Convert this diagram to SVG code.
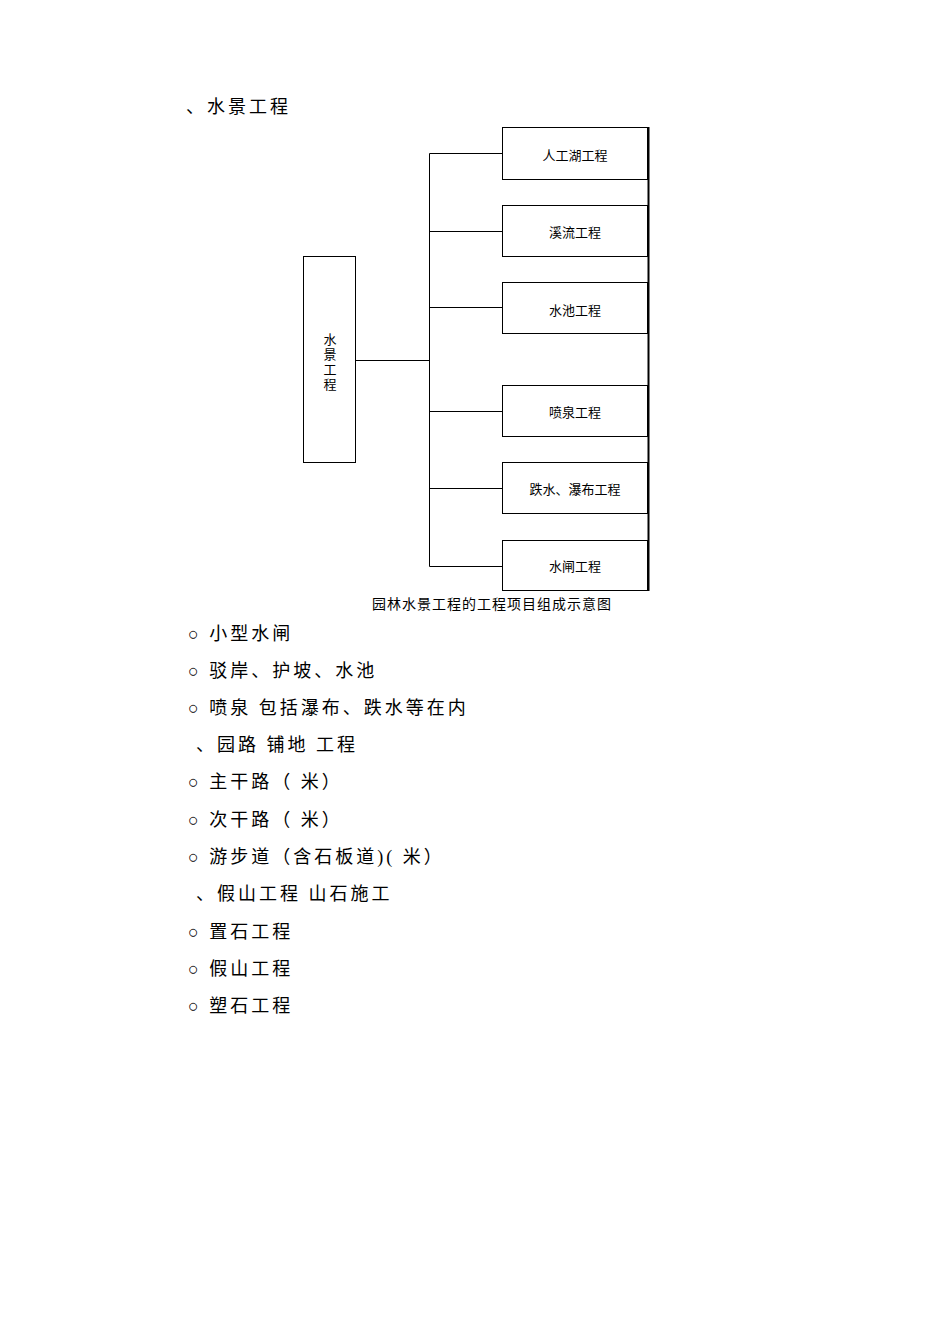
<svg xmlns="http://www.w3.org/2000/svg" width="950" height="1344" viewBox="0 0 950 1344">
<style>
.t{font-family:"Liberation Serif","Noto Sans CJK SC",serif;font-size:18px;fill:#000;letter-spacing:3px}
.s{font-family:"Liberation Serif","Noto Sans CJK SC",serif;font-size:13px;fill:#000;text-anchor:middle}
.b{fill:#fff;stroke:#000;stroke-width:1}
.c{fill:none;stroke:#000;stroke-width:1}
</style>
<rect width="950" height="1344" fill="#fff"/>
<text class="t" x="186" y="113">、水景工程</text>
<g id="root"><rect class="b" x="303.5" y="256.5" width="52" height="206"/>
<text class="s" x="330" y="344">水</text><text class="s" x="330" y="359">景</text><text class="s" x="330" y="374">工</text><text class="s" x="330" y="389">程</text></g>
<g id="n1"><rect class="b" x="502.5" y="127.5" width="145" height="52"/><text class="s" x="575" y="160">人工湖工程</text></g>
<g id="n2"><rect class="b" x="502.5" y="205.5" width="145" height="51"/><text class="s" x="575" y="237">溪流工程</text></g>
<g id="n3"><rect class="b" x="502.5" y="282.5" width="145" height="51"/><text class="s" x="575" y="315">水池工程</text></g>
<g id="n4"><rect class="b" x="502.5" y="385.5" width="145" height="51"/><text class="s" x="575" y="417">喷泉工程</text></g>
<g id="n5"><rect class="b" x="502.5" y="462.5" width="145" height="51"/><text class="s" x="575" y="494">跌水、瀑布工程</text></g>
<g id="n6"><rect class="b" x="502.5" y="540.5" width="145" height="50"/><text class="s" x="575" y="571">水闸工程</text></g>
<g id="connectors">
<path class="c" d="M356 360.5H429.5M429.5 153.5V566.5M429.5 153.5H502M429.5 231.5H502M429.5 307.5H502M429.5 411.5H502M429.5 488.5H502M429.5 566.5H502"/>
<path d="M648.5 127V591" stroke="#000" stroke-width="2"/>
</g>
<text class="s" x="492" y="609" style="font-size:14px;letter-spacing:1px">园林水景工程的工程项目组成示意图</text>
<g class="t">
<text x="188" y="640">○ 小型水闸</text>
<text x="188" y="677">○ 驳岸、护坡、水池</text>
<text x="188" y="714">○ 喷泉 包括瀑布、跌水等在内</text>
<text x="196" y="751">、园路 铺地 工程</text>
<text x="188" y="788">○ 主干路（    米）</text>
<text x="188" y="826">○ 次干路（    米）</text>
<text x="188" y="863">○ 游步道（含石板道)(      米）</text>
<text x="196" y="900">、假山工程 山石施工</text>
<text x="188" y="938">○ 置石工程</text>
<text x="188" y="975">○ 假山工程</text>
<text x="188" y="1012">○ 塑石工程</text>
</g>
</svg>
